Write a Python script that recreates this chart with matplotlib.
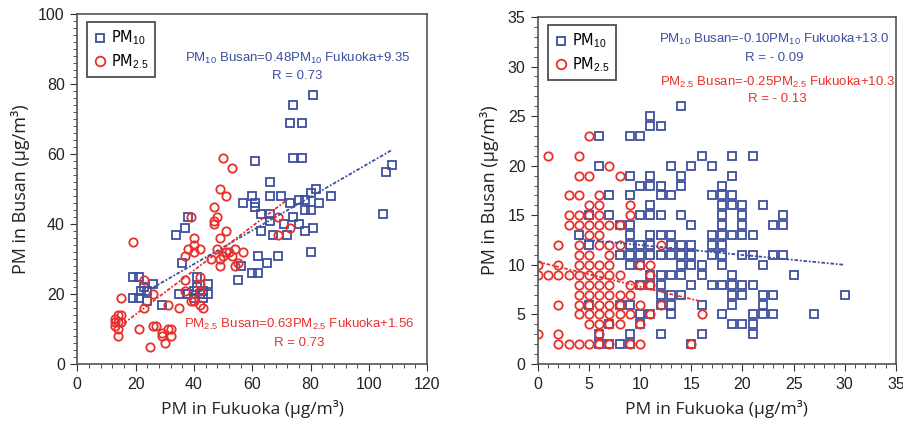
import matplotlib
matplotlib.use("Agg")
import matplotlib.pyplot as plt
from matplotlib.ticker import MultipleLocator

plt.rcParams["mathtext.fontset"] = "custom"
plt.rcParams["mathtext.rm"] = "Liberation Sans"
plt.rcParams["mathtext.it"] = "Liberation Sans:italic"
plt.rcParams["mathtext.bf"] = "Liberation Sans:bold"

# ---- left panel: all data ----
left_pm10_x = [19, 21, 21, 19, 22, 23, 24, 24, 26, 29,
               34, 36, 37, 38,
               35, 38, 40, 40, 41, 42, 43, 43, 45, 45, 41,
               55, 56, 60, 62, 65, 62, 69, 80,
               57, 60, 61, 61, 61, 63, 66, 66, 66, 66, 70, 63, 67,
               72, 71, 73, 74, 76, 78, 80, 78, 81, 76, 78, 80, 82, 83, 87,
               73, 77, 74, 81, 74, 77,
               105, 106, 108]
left_pm10_y = [25, 25, 19, 19, 21, 22, 21, 18, 23, 17,
               37, 29, 39, 42,
               20, 20, 21, 19, 25, 20, 21, 19, 23, 20, 22,
               24, 28, 26, 26, 29, 31, 31, 32,
               46, 48, 46, 45, 58, 43, 43, 41, 48, 52, 48, 38, 37,
               37, 40, 46, 42, 40, 44, 44, 38, 39, 47, 47, 49, 50, 46, 48,
               69, 69, 74, 77, 59, 59,
               43, 55, 57]

left_pm25_x = [19, 15, 13, 14, 15, 13, 14, 15, 14, 14, 13,
               21, 23, 23, 26, 25, 26, 27,
               29, 31, 29, 32, 32, 30, 31, 35,
               37, 37, 37, 38, 40, 40, 40, 42, 39, 39, 40,
               42, 42, 42, 42, 43, 46,
               47, 47, 47, 48, 48, 49, 49, 49, 49, 50, 50, 51, 51, 51,
               53, 52, 53, 54, 54, 55, 57,
               69, 69, 73]
left_pm25_y = [35, 19, 13, 14, 14, 12, 12, 12, 10, 8, 11,
               10, 24, 16, 20, 5, 11, 11,
               9, 10, 8, 10, 8, 6, 17, 16,
               24, 21, 31, 33, 36, 34, 32, 33, 42, 18, 18,
               25, 23, 21, 17, 16, 30,
               45, 41, 40, 42, 33, 50, 36, 28, 30, 59, 31, 48, 38, 32,
               56, 32, 31, 33, 28, 29, 32,
               42, 37, 39]

# ---- right panel: Asian dust excluded (Busan value -> Fukuoka values) ----
right_pm10 = {
    26: [14], 25: [11], 24: [11, 12], 23: [6, 9, 10],
    21: [16, 19, 21], 20: [6, 13, 15, 17], 19: [9, 11, 14, 19],
    18: [10, 11, 12, 14, 18], 17: [7, 9, 12, 13, 17, 18, 19],
    16: [11, 18, 19, 20, 22], 15: [5, 7, 10, 11, 12, 14, 18, 20, 24],
    14: [8, 9, 15, 18, 20, 23, 24], 13: [4, 9, 11, 12, 13, 17, 18, 19, 20, 21],
    12: [5, 9, 10, 11, 13, 14, 15, 17, 18],
    11: [8, 9, 10, 11, 12, 13, 14, 15, 17, 18, 20, 21, 23, 24],
    10: [9, 10, 14, 15, 16, 18, 22], 9: [11, 12, 13, 14, 16, 19, 25],
    8: [10, 11, 12, 15, 17, 18, 19, 20, 21], 7: [12, 13, 14, 19, 20, 22, 23, 30],
    6: [5, 8, 9, 12, 13, 16, 19, 22], 5: [10, 11, 13, 18, 21, 22, 23, 27],
    4: [7, 10, 19, 20, 21], 3: [6, 9, 12, 16, 21], 2: [6, 7, 8, 9, 15],
}
right_pm25 = {
    23: [5], 21: [1, 4], 20: [7], 19: [4, 5, 8], 17: [3, 4, 6], 16: [5, 6, 9],
    15: [3, 4, 5, 6, 9], 14: [3, 4, 5, 6, 7, 8], 13: [5, 6],
    12: [2, 4, 6, 7, 8, 12], 11: [4, 5, 7], 10: [0, 2, 4, 5, 6, 7, 10, 11],
    9: [0, 1, 2, 3, 4, 5, 6, 7, 8, 11], 8: [4, 5, 6, 7, 9, 10, 11],
    7: [4, 5, 6, 7, 8, 9], 6: [2, 4, 5, 6, 7, 8, 10, 12],
    5: [4, 5, 6, 7, 8, 9, 11, 16], 4: [5, 6, 7, 8, 10], 3: [0, 2, 6],
    2: [2, 3, 4, 5, 6, 7, 9, 10, 15],
}

# regression lines (slope, intercept, x range)
left_fit10 = (0.48, 9.35, 26, 108)
left_fit25 = (0.63, 1.56, 16, 72)
right_fit10 = (-0.10, 13.0, 4, 30)
right_fit25 = (-0.25, 10.3, 0, 16)

BLUE = "#3d4f9f"
RED = "#e8302c"
EQFONT = "Liberation Sans"
LABFONT = ["Open Sans", "DejaVu Sans"]


def flatten(d):
    xs, ys = [], []
    for y, row in d.items():
        for x in row:
            xs.append(x)
            ys.append(y)
    return xs, ys


def style_axes(ax, lim, major, xminor, yminor):
    ax.set_xlim(0, lim[0])
    ax.set_ylim(0, lim[1])
    ax.xaxis.set_major_locator(MultipleLocator(major[0]))
    ax.yaxis.set_major_locator(MultipleLocator(major[1]))
    ax.xaxis.set_minor_locator(MultipleLocator(xminor))
    ax.yaxis.set_minor_locator(MultipleLocator(yminor))
    ax.tick_params(which="both", direction="out", top=False, right=False, colors="#333333")
    ax.tick_params(which="major", length=5, labelsize=11.5, labelcolor="#222222", pad=4)
    ax.tick_params(which="minor", length=3)
    for s in ax.spines.values():
        s.set_color("#555555")
        s.set_linewidth(1.2)
    for lab in ax.get_xticklabels() + ax.get_yticklabels():
        lab.set_family("Liberation Sans")
    ax.set_xlabel("PM in Fukuoka (\u03bcg/m\u00b3)", fontsize=12.5, family=LABFONT, color="#222222", labelpad=6)
    ax.set_ylabel("PM in Busan (\u03bcg/m\u00b3)", fontsize=13, family=LABFONT, color="#222222", labelpad=6)


def scatter(ax, x10, y10, x25, y25):
    ax.plot(x10, y10, ls="none", marker="s", ms=5.3, mfc="none", mec=BLUE, mew=1.3, label="PM$_{10}$")
    ax.plot(x25, y25, ls="none", marker="o", ms=6, mfc="none", mec=RED, mew=1.3, label="PM$_{2.5}$")


def fit_line(ax, fit, color):
    a, b, x0, x1 = fit
    ax.plot([x0, x1], [a * x0 + b, a * x1 + b], color=color, lw=1.3, ls=(0, (2, 1, 1, 1)))


def legend(ax):
    leg = ax.legend(loc="upper left", bbox_to_anchor=(0.02, 0.985), fontsize=10.5, frameon=True,
                    fancybox=False, handletextpad=0.3, borderpad=0.45, handlelength=0.9,
                    labelspacing=0.35, borderaxespad=0.2, markerscale=1.15)
    leg.get_frame().set_edgecolor("#222222")
    leg.get_frame().set_linewidth(1.3)


def eq(ax, x, y, s, color):
    ax.text(x, y, s, color=color, fontsize=9.5, family=EQFONT, ha="center", va="center")


fig = plt.figure(figsize=(9.04, 4.25), dpi=100)
ax1 = fig.add_axes([0.0855, 0.1435, 0.387, 0.8235])
ax2 = fig.add_axes([0.595, 0.1435, 0.396, 0.8165])

# left
scatter(ax1, left_pm10_x, left_pm10_y, left_pm25_x, left_pm25_y)
fit_line(ax1, left_fit10, BLUE)
fit_line(ax1, left_fit25, RED)
style_axes(ax1, (120, 100), (20, 20), 4, 2)
legend(ax1)
eq(ax1, 75.5, 87.4, "PM$_{10}$ Busan=0.48PM$_{10}$ Fukuoka+9.35", BLUE)
eq(ax1, 75.5, 82.2, "R = 0.73", BLUE)
eq(ax1, 76, 11.3, "PM$_{2.5}$ Busan=0.63PM$_{2.5}$ Fukuoka+1.56", RED)
eq(ax1, 76, 6.0, "R = 0.73", RED)

# right
r10x, r10y = flatten(right_pm10)
r25x, r25y = flatten(right_pm25)
scatter(ax2, r10x, r10y, r25x, r25y)
fit_line(ax2, right_fit10, BLUE)
fit_line(ax2, right_fit25, RED)
style_axes(ax2, (35, 35), (5, 5), 1, 1)
legend(ax2)
eq(ax2, 23.1, 32.7, "PM$_{10}$ Busan=-0.10PM$_{10}$ Fukuoka+13.0", BLUE)
eq(ax2, 23.1, 30.9, "R = - 0.09", BLUE)
eq(ax2, 23.4, 28.4, "PM$_{2.5}$ Busan=-0.25PM$_{2.5}$ Fukuoka+10.3", RED)
eq(ax2, 23.4, 26.7, "R = - 0.13", RED)

fig.savefig("out.png", dpi=100)
